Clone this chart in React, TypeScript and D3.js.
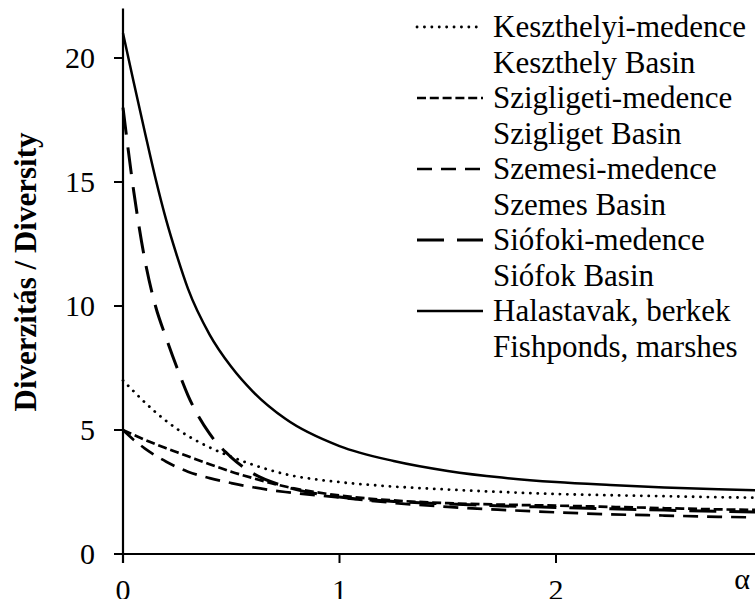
import React from "react";
import * as d3 from "d3";

const ALPHA = [0, 0.05, 0.1, 0.15, 0.2, 0.25, 0.3, 0.4, 0.5, 0.6, 0.75, 1, 1.25, 1.5, 1.75, 2, 2.25, 2.5, 2.75, 3];

const keszthelyi = [7.0, 6.55, 6.12, 5.72, 5.36, 5.04, 4.76, 4.3, 3.92, 3.6, 3.22, 2.9, 2.72, 2.6, 2.5, 2.42, 2.37, 2.33, 2.29, 2.26];
const szigligeti = [5.0, 4.8, 4.61, 4.43, 4.26, 4.1, 3.94, 3.62, 3.32, 3.06, 2.72, 2.36, 2.16, 2.05, 1.99, 1.95, 1.9, 1.85, 1.8, 1.77];
const szemesi = [5.0, 4.6, 4.26, 3.97, 3.72, 3.5, 3.32, 3.06, 2.86, 2.69, 2.5, 2.28, 2.06, 1.9, 1.78, 1.68, 1.6, 1.55, 1.5, 1.47];
const siofoki = [18.0, 14.6, 11.9, 10.0, 8.7, 7.5, 6.4, 4.85, 3.9, 3.25, 2.72, 2.3, 2.12, 2.02, 1.94, 1.88, 1.82, 1.77, 1.72, 1.68];
const halastavak = [21.0, 19.0, 17.05, 15.15, 13.45, 12.0, 10.7, 8.85, 7.55, 6.55, 5.45, 4.35, 3.75, 3.35, 3.08, 2.9, 2.78, 2.68, 2.61, 2.56];

const seriesNamesHu = ["Keszthelyi-medence", "Szigligeti-medence", "Szemesi-medence", "Siófoki-medence", "Halastavak, berkek"];
const seriesNamesEn = ["Keszthely Basin", "Szigliget Basin", "Szemes Basin", "Siófok Basin", "Fishponds, marshes"];
const seriesValues = [keszthelyi, szigligeti, szemesi, siofoki, halastavak];

const yTicks = [0, 5, 10, 15, 20];
const xTicks = [0, 1, 2];

const styles = [
  { dash: "0.1 7.3", width: 2.8, cap: "round" },
  { dash: "9 3.8", width: 2.7, cap: "butt" },
  { dash: "15 9", width: 2.7, cap: "butt" },
  { dash: "27 13", width: 3, cap: "butt" },
  { dash: "none", width: 2.5, cap: "butt" },
];

const FONT = "'Times New Roman', 'Liberation Serif', 'DejaVu Serif', 'Noto Serif', serif";

export default function App() {
  const W = 755;
  const H = 599;
  const x = d3.scaleLinear().domain([0, 3]).range([123, 772.5]);
  const y = d3.scaleLinear().domain([0, 22]).range([554, 8.4]);
  const line = d3
    .line<number>()
    .x((_, i) => x(ALPHA[i]))
    .y((d) => y(d))
    .curve(d3.curveMonotoneX);

  const legendX0 = 417;
  const legendX1 = 483;
  const legendTextX = 493;
  const base0 = 37;
  const step = 35.5;

  return (
    <svg
      width={W}
      height={H}
      fontFamily={FONT}
      style={{ position: "absolute", left: 0, top: 0, display: "block", background: "#fff", fontFamily: FONT }}
    >
      <rect x={0} y={0} width={W} height={H} fill="#fff" />
      {seriesValues.map((vals, i) => (
        <path
          key={i}
          d={line(vals) || ""}
          fill="none"
          stroke="#000"
          strokeWidth={styles[i].width}
          strokeDasharray={styles[i].dash}
          strokeLinecap={styles[i].cap as any}
        />
      ))}
      <line x1={x(0)} x2={x(0)} y1={y(22)} y2={y(0) + 9} stroke="#000" strokeWidth={2.2} />
      <line x1={x(0) - 9} x2={W} y1={y(0)} y2={y(0)} stroke="#000" strokeWidth={2.2} />
      {yTicks.map((t) => (
        <g key={"y" + t}>
          <line x1={x(0) - 9} x2={x(0)} y1={y(t)} y2={y(t)} stroke="#000" strokeWidth={2} />
          <text x={95} y={y(t) + 10} textAnchor="end" fontFamily={FONT} fontSize={30} fill="#000">
            {t}
          </text>
        </g>
      ))}
      {xTicks.map((t) => (
        <g key={"x" + t}>
          <line x1={x(t)} x2={x(t)} y1={y(0)} y2={y(0) + 9} stroke="#000" strokeWidth={2} />
          <text x={x(t)} y={600} textAnchor="middle" fontFamily={FONT} fontSize={30} fill="#000">
            {t}
          </text>
        </g>
      ))}
      <text x={742} y={589} textAnchor="middle" fontFamily={FONT} fontSize={30} fill="#000">
        α
      </text>
      <text
        transform={`translate(36, 272) rotate(-90)`}
        textAnchor="middle"
        fontFamily={FONT}
        fontWeight="bold"
        fontSize={31}
        fill="#000"
      >
        Diverzitás / Diversity
      </text>
      {seriesNamesHu.map((name, i) => {
        const b1 = base0 + step * 2 * i;
        const b2 = b1 + step;
        return (
          <g key={"lg" + i}>
            <line
              x1={legendX0}
              x2={legendX1}
              y1={b1 - 10}
              y2={b1 - 10}
              stroke="#000"
              strokeWidth={styles[i].width}
              strokeDasharray={styles[i].dash}
              strokeLinecap={styles[i].cap as any}
            />
            <text x={legendTextX} y={b1} fontFamily={FONT} fontSize={31} fill="#000">
              {name}
            </text>
            <text x={legendTextX} y={b2} fontFamily={FONT} fontSize={31} fill="#000">
              {seriesNamesEn[i]}
            </text>
          </g>
        );
      })}
    </svg>
  );
}
